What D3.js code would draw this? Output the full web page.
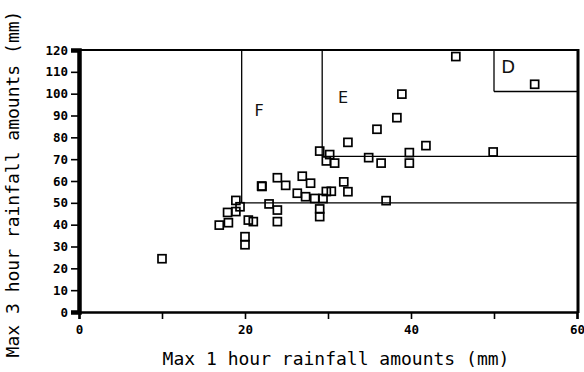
<!DOCTYPE html>
<html>
<head>
<meta charset="utf-8">
<script src="https://cdn.jsdelivr.net/npm/d3@7/dist/d3.min.js"></script>
<style>
  html, body { margin: 0; padding: 0; background: #fff; }
  svg { display: block; }
</style>
</head>
<body>
<svg id="chart" width="584" height="372"></svg>
<script>
// ---- data ----
const max1h = [10, 16.9, 18.0, 17.9, 18.9, 18.9, 19.4, 20.4, 21.0, 20.0, 20.0,
  22.0, 22.05, 23.9, 24.9, 22.9, 23.9, 23.9, 26.9, 27.9, 26.3, 27.3, 28.4, 29.4,
  29.0, 29.0, 29.8, 30.4, 29.0, 30.2, 29.8, 30.8, 31.9, 32.4, 32.4, 34.9, 36.4,
  35.9, 38.3, 38.9, 39.8, 39.8, 41.8, 37.0, 45.4, 49.9, 54.9];
const max3h = [24.4, 39.8, 40.9, 45.6, 46.0, 51.1, 48.2, 42.1, 41.4, 34.5, 30.8,
  57.7, 57.5, 61.5, 58.0, 49.5, 46.7, 41.4, 62.2, 59.0, 54.4, 52.8, 52.0, 52.0,
  47.2, 43.7, 55.2, 55.3, 73.7, 72.1, 69.2, 68.2, 59.6, 55.1, 77.7, 70.7, 68.2,
  83.7, 89.0, 99.8, 73.0, 68.2, 76.2, 51.0, 117.0, 73.3, 104.3];
const regionNames = ["F", "E", "D"];
const regionX = [19.6, 29.3, 50];     // left boundary of each region
const regionY = [50, 71.3, 101];      // lower boundary of each region
const labelX = [21.7, 31.8, 51.7];
const labelY = [92.5, 98.3, 112.5];
const xTicks = [0, 20, 40, 60];
const xMinorTicks = [10, 30, 50];
const yTicks = [0, 10, 20, 30, 40, 50, 60, 70, 80, 90, 100, 110, 120];
const xTitle = "Max 1 hour rainfall amounts (mm)";
const yTitle = "Max 3 hour rainfall amounts (mm)";

// ---- layout ----
const svg = d3.select("#chart");
const x = d3.scaleLinear().domain([0, 60]).range([79, 577]);
const y = d3.scaleLinear().domain([0, 120]).range([312, 50]);
const mono = "'DejaVu Sans Mono', 'Liberation Mono', monospace";

// region lines
const g = svg.append("g").attr("stroke", "#000").attr("stroke-width", 1.3).attr("fill", "none");
regionX.forEach((rx, i) => {
  g.append("line").attr("x1", x(rx)).attr("x2", x(rx))
    .attr("y1", y(regionY[i])).attr("y2", y(120));
  g.append("line").attr("x1", x(rx)).attr("x2", x(60))
    .attr("y1", y(regionY[i])).attr("y2", y(regionY[i]));
});

// region labels
svg.append("g").selectAll("text").data(regionNames).join("text")
  .attr("x", (d, i) => x(labelX[i]))
  .attr("y", (d, i) => y(labelY[i]))
  .attr("text-anchor", "middle").attr("dominant-baseline", "central")
  .attr("font-family", "'DejaVu Sans', sans-serif")
  .attr("font-size", (d, i) => i === 2 ? 18 : 16)
  .attr("fill", "#111")
  .text(d => d);

// points
svg.append("g").selectAll("rect").data(max1h).join("rect")
  .attr("x", (d, i) => x(d) - 4)
  .attr("y", (d, i) => y(max3h[i]) - 4)
  .attr("width", 8).attr("height", 8)
  .attr("fill", "#fff").attr("fill-opacity", 0)
  .attr("stroke", "#000").attr("stroke-width", 1.7);

// frame
svg.append("line").attr("x1", x(0)).attr("x2", x(60)).attr("y1", y(120)).attr("y2", y(120))
  .attr("stroke", "#000").attr("stroke-width", 2.2);
svg.append("line").attr("x1", x(60) + 1).attr("x2", x(60) + 1).attr("y1", y(120) - 1).attr("y2", y(0) + 1)
  .attr("stroke", "#000").attr("stroke-width", 3);

// x axis
const xAxis = svg.append("g").attr("transform", `translate(0,${y(0)})`)
  .call(d3.axisBottom(x).tickValues(xTicks).tickSize(7).tickPadding(6).tickFormat(d3.format("d")));
const xMinor = svg.append("g").attr("transform", `translate(0,${y(0)})`)
  .call(d3.axisBottom(x).tickValues(xMinorTicks).tickSize(7).tickFormat(""));
xMinor.select(".domain").remove();
xAxis.select(".domain").attr("stroke-width", 2.5);
[xAxis, xMinor].forEach(a => a.selectAll(".tick line").attr("stroke-width", 1.6));

// y axis
const yAxis = svg.append("g").attr("transform", `translate(${x(0)},0)`)
  .call(d3.axisLeft(y).tickValues(yTicks).tickSize(8).tickPadding(3).tickFormat(d3.format("d")));
yAxis.select(".domain").attr("stroke-width", 4.5);
yAxis.selectAll(".tick line").attr("stroke-width", 1.6);

svg.selectAll(".tick text")
  .attr("font-family", mono).attr("font-weight", "bold").attr("font-size", 12.5).attr("fill", "#000");

// titles
svg.append("text").attr("x", 336).attr("y", 365)
  .attr("text-anchor", "middle").attr("font-family", mono).attr("font-size", 18).attr("fill", "#000")
  .text(xTitle);
svg.append("text").attr("transform", "translate(19,184) rotate(-90)")
  .attr("text-anchor", "middle").attr("font-family", mono).attr("font-size", 18).attr("fill", "#000")
  .text(yTitle);
</script>
</body>
</html>
